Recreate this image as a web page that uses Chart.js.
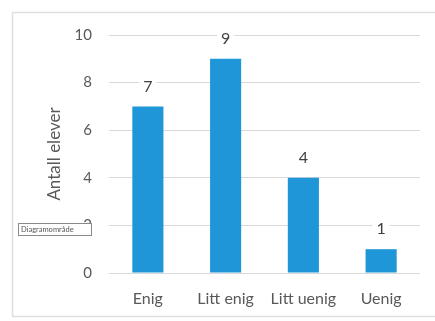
<!DOCTYPE html>
<html>
<head>
<meta charset="utf-8">
<script src="https://cdn.jsdelivr.net/npm/chart.js@4/dist/chart.umd.min.js"></script>
<style>
  html, body { margin: 0; padding: 0; background: #fff; }
  #wrap { width: 435px; height: 321px; position: relative; }
</style>
</head>
<body>
<div id="wrap"><canvas id="c" width="435" height="321"></canvas></div>
<script>
// Survey answers: number of pupils per response option
const categories = ['Enig', 'Litt enig', 'Litt uenig', 'Uenig'];
const pupils = [7, 9, 4, 1];
const yTicks = [0, 2, 4, 6, 8, 10];
const axisTitle = 'Antall elever';
const hoverTip = 'Diagramområde';

const FONT = 'Lato, "Open Sans", "Liberation Sans", sans-serif';
const GREY = '#595959';

// Light frame around the whole chart object plus the little hover tip box
const framePlugin = {
  id: 'frame',
  beforeDraw(chart) {
    const ctx = chart.ctx;
    ctx.save();
    ctx.fillStyle = '#ffffff';
    ctx.fillRect(0, 0, chart.width, chart.height);
    ctx.strokeStyle = '#dedede';
    ctx.lineWidth = 1.5;
    ctx.strokeRect(12.5, 12.5, chart.width, chart.height - 17);
    ctx.restore();
  },
  afterDraw(chart) {
    const ctx = chart.ctx;
    ctx.save();
    ctx.fillStyle = '#ffffff';
    ctx.fillRect(18.5, 223.5, 73, 12);
    ctx.strokeStyle = '#8a8a8a';
    ctx.lineWidth = 1;
    ctx.strokeRect(18.5, 223.5, 73, 12);
    ctx.fillStyle = '#555';
    ctx.font = '7.5px ' + FONT;
    ctx.textAlign = 'left';
    ctx.textBaseline = 'middle';
    ctx.fillText(hoverTip, 21, 230);
    ctx.restore();
  }
};

// Value labels above each bar, on a white backing
const valueLabels = {
  id: 'valueLabels',
  afterDatasetsDraw(chart) {
    const ctx = chart.ctx;
    const meta = chart.getDatasetMeta(0);
    const values = chart.data.datasets[0].data;
    ctx.save();
    ctx.font = '16px ' + FONT;
    ctx.textAlign = 'center';
    ctx.textBaseline = 'middle';
    meta.data.forEach((bar, i) => {
      const txt = String(values[i]);
      const y = bar.y - 20;
      const w = ctx.measureText(txt).width + 8;
      ctx.fillStyle = '#ffffff';
      ctx.fillRect(bar.x - w / 2, y - 9, w, 18);
      ctx.fillStyle = '#404040';
      ctx.fillText(txt, bar.x, y);
    });
    ctx.restore();
  }
};

new Chart(document.getElementById('c'), {
  type: 'bar',
  data: {
    labels: categories,
    datasets: [{
      data: pupils,
      backgroundColor: '#1f96d8',
      borderWidth: 0,
      barPercentage: 0.8,
      categoryPercentage: 0.5
    }]
  },
  options: {
    responsive: false,
    animation: false,
    devicePixelRatio: 1,
    layout: { padding: { left: 0, right: 15, top: 35, bottom: 0 } },
    plugins: { legend: { display: false }, tooltip: { enabled: false } },
    scales: {
      x: {
        grid: { display: false, drawTicks: false },
        border: { display: false },
        ticks: { color: GREY, font: { family: FONT, size: 16 }, padding: 16, maxRotation: 0 },
        afterFit(scale) { scale.height = 48; }
      },
      y: {
        min: 0,
        max: 10,
        afterBuildTicks(scale) { scale.ticks = yTicks.map(v => ({ value: v })); },
        grid: { color: '#d9d9d9', lineWidth: 1, drawTicks: false },
        border: { display: false },
        ticks: { color: GREY, font: { family: FONT, size: 15 }, padding: 17 },
        title: {
          display: true,
          text: axisTitle,
          color: GREY,
          font: { family: FONT, size: 17 },
          padding: { top: 44, bottom: 0 }
        },
        afterFit(scale) { scale.width = 109; }
      }
    }
  },
  plugins: [framePlugin, valueLabels]
});
</script>
</body>
</html>
